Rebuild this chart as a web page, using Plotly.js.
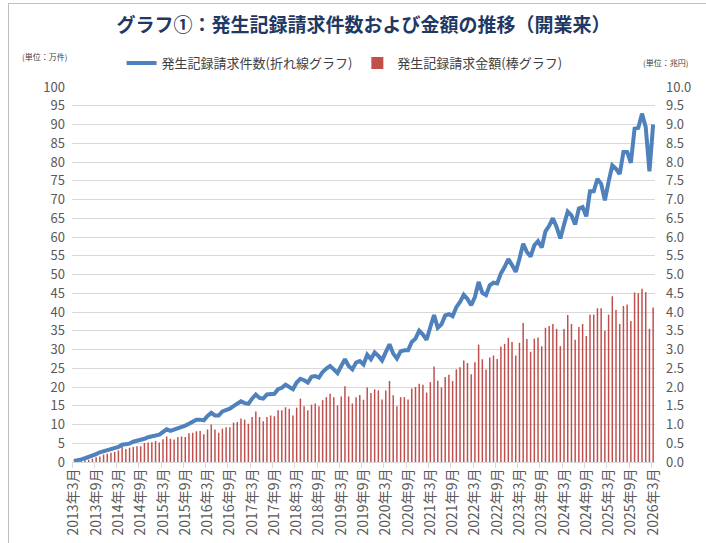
<!DOCTYPE html>
<html>
<head>
<meta charset="utf-8">
<script src="https://cdn.plot.ly/plotly-3.0.1.min.js"></script>
<style>
  html, body { margin: 0; padding: 0; background: #ffffff; }
  #wrap { position: relative; width: 706px; height: 543px; overflow: hidden; }
  #frame { position: absolute; left: 8px; top: 3px; width: 760px; height: 600px; border: 1px solid #bfbfbf; box-sizing: border-box; pointer-events: none; }
  #chart { position: absolute; left: 0; top: 0; width: 706px; height: 543px; }
</style>
</head>
<body>
<div id="wrap">
  <div id="chart"></div>
  <div id="frame"></div>
</div>
<script>
// Months: 2013年3月 .. 2026年3月
const startYear = 2013, startMonth = 3, monthCount = 157;
const months = [];
for (let k = 0; k < monthCount; k++) {
  const m = startMonth - 1 + k;
  months.push((startYear + Math.floor(m / 12)) + "年" + (m % 12 + 1) + "月");
}

// 発生記録請求件数 (万件) – line, left axis
const requestCount = [
  0.3, 0.4, 0.7, 1.0, 1.3, 1.7, 2.1, 2.6, 2.9, 3.3, 3.6, 3.8,
  4.0, 4.6, 4.7, 4.9, 5.4, 5.6, 5.8, 6.2, 6.6, 6.9, 7.2, 7.3,
  8.0, 8.7, 8.3, 8.6, 9.0, 9.4, 9.7, 10.2, 10.7, 11.3, 11.3, 11.1,
  12.3, 13.1, 12.4, 12.4, 13.5, 13.9, 14.2, 14.9, 15.5, 16.2, 15.7, 15.5,
  16.9, 18.0, 17.1, 16.9, 18.0, 18.2, 18.2, 19.4, 19.8, 20.6, 20.0, 19.4,
  21.2, 22.2, 21.8, 21.2, 22.7, 22.9, 22.5, 24.0, 24.9, 25.6, 24.7, 23.7,
  25.6, 27.4, 25.6, 24.7, 26.5, 26.9, 26.0, 28.6, 27.4, 29.2, 28.3, 27.1,
  29.3, 31.4, 28.9, 27.6, 29.5, 29.8, 29.8, 32.0, 32.9, 35.0, 34.0, 32.6,
  36.0, 39.2, 35.8, 36.7, 39.1, 39.4, 38.9, 41.3, 42.7, 44.6, 43.5, 41.8,
  44.0, 48.0, 45.1, 44.5, 47.1, 47.8, 47.6, 50.3, 52.0, 54.1, 52.5, 50.7,
  54.2, 58.2, 56.0, 54.8, 57.8, 58.9, 57.2, 61.5, 63.0, 65.0, 62.7, 59.6,
  63.3, 66.8, 65.8, 63.3, 67.6, 68.0, 65.5, 72.2, 72.2, 75.5, 74.2, 69.8,
  74.7, 79.1, 78.2, 76.8, 82.7, 82.7, 79.8, 88.9, 89.1, 92.9, 89.3, 77.5,
  90.0
];

// 発生記録請求金額 (兆円) – bars, right axis
const requestAmount = [
  0.01, 0.02, 0.03, 0.045, 0.06, 0.09, 0.13, 0.15, 0.20, 0.22, 0.25, 0.27,
  0.31, 0.40, 0.35, 0.38, 0.40, 0.42, 0.42, 0.51, 0.52, 0.53, 0.56, 0.52,
  0.61, 0.68, 0.62, 0.60, 0.67, 0.68, 0.67, 0.77, 0.78, 0.82, 0.83, 0.74,
  0.87, 1.00, 0.87, 0.78, 0.89, 0.93, 0.93, 1.05, 1.07, 1.16, 1.13, 1.02,
  1.20, 1.35, 1.20, 1.09, 1.20, 1.24, 1.22, 1.38, 1.38, 1.46, 1.42, 1.24,
  1.45, 1.69, 1.49, 1.38, 1.53, 1.56, 1.49, 1.65, 1.73, 1.82, 1.73, 1.51,
  1.75, 2.02, 1.75, 1.56, 1.73, 1.79, 1.66, 1.99, 1.84, 1.94, 1.91, 1.67,
  1.91, 2.16, 1.78, 1.49, 1.73, 1.73, 1.67, 1.96, 2.00, 2.09, 2.06, 1.85,
  2.13, 2.55, 2.17, 1.99, 2.27, 2.33, 2.16, 2.47, 2.53, 2.71, 2.64, 2.34,
  2.66, 3.13, 2.74, 2.47, 2.79, 2.84, 2.75, 3.08, 3.15, 3.31, 3.20, 2.84,
  3.18, 3.71, 3.28, 2.94, 3.29, 3.32, 3.09, 3.58, 3.63, 3.68, 3.55, 3.09,
  3.55, 3.92, 3.68, 3.26, 3.60, 3.68, 3.36, 3.93, 3.93, 4.10, 4.10, 3.50,
  3.93, 4.42, 4.06, 3.68, 4.16, 4.20, 3.76, 4.52, 4.50, 4.62, 4.53, 3.55,
  4.12
];

const leftTicks = [0,5,10,15,20,25,30,35,40,45,50,55,60,65,70,75,80,85,90,95,100];
const rightTicks = [0,0.5,1,1.5,2,2.5,3,3.5,4,4.5,5,5.5,6,6.5,7,7.5,8,8.5,9,9.5,10];

const FONT = '"Noto Sans CJK JP", "Noto Sans", sans-serif';

const traces = [
  {
    type: 'scatter', mode: 'lines', name: '発生記録請求件数(折れ線グラフ)',
    x: months, y: requestCount, yaxis: 'y2',
    line: { color: '#4F81BD', width: 4 }
  },
  {
    type: 'bar', name: '発生記録請求金額(棒グラフ)',
    x: months, y: requestAmount, yaxis: 'y',
    marker: { color: '#C0504D', line: { width: 0 } }
  }
];

const layout = {
  width: 706, height: 543,
  paper_bgcolor: '#ffffff', plot_bgcolor: '#ffffff',
  margin: { l: 72, r: 51, t: 87, b: 81 },
  font: { family: FONT, color: '#595959', size: 13 },
  title: {
    text: '<b>グラフ①：発生記録請求件数および金額の推移（開業来）</b>',
    font: { family: FONT, size: 19, color: '#1F3864' },
    x: 0.5, xanchor: 'center', xref: 'paper',
    y: 1 - 25 / 543, yanchor: 'middle', yref: 'container'
  },
  bargap: 0.6,
  showlegend: true,
  legend: {
    orientation: 'h', x: 0.085, xanchor: 'left', y: 1.064, yanchor: 'middle',
    font: { family: FONT, size: 13, color: '#404040' },
    itemwidth: 30, bgcolor: 'rgba(0,0,0,0)', traceorder: 'normal'
  },
  xaxis: {
    type: 'category',
    tickmode: 'linear', tick0: 0, dtick: 6,
    tickson: 'boundaries',
    tickangle: -90,
    ticks: 'outside', ticklen: 5, tickcolor: '#d9d9d9',
    showgrid: false, zeroline: false,
    showline: true, linecolor: '#d9d9d9', linewidth: 1,
    tickfont: { family: FONT, size: 14, color: '#595959' }
  },
  yaxis: {
    side: 'right', range: [0, 10], tickmode: 'array', tickvals: rightTicks,
    tickformat: '.1f', showgrid: true, gridcolor: '#d9d9d9', gridwidth: 1,
    zeroline: false, showline: false, ticks: '', ticklabelstandoff: 10,
    tickfont: { family: FONT, size: 13, color: '#595959' }
  },
  yaxis2: {
    overlaying: 'y', side: 'left', range: [0, 100], tickmode: 'array', tickvals: leftTicks,
    showgrid: false, zeroline: false, showline: false, ticks: '', ticklabelstandoff: 6,
    tickfont: { family: FONT, size: 13, color: '#595959' }
  },
  annotations: [
    { text: '(単位：万件)', xref: 'paper', yref: 'paper', x: (44 - 72) / 583, y: 1 + (87 - 57) / 375,
      xanchor: 'center', yanchor: 'middle', showarrow: false, font: { family: FONT, size: 8, color: '#404040' } },
    { text: '(単位：兆円)', xref: 'paper', yref: 'paper', x: (665 - 72) / 583, y: 1 + (87 - 62) / 375,
      xanchor: 'center', yanchor: 'middle', showarrow: false, font: { family: FONT, size: 8, color: '#404040' } }
  ]
};

Plotly.newPlot('chart', traces, layout, { displayModeBar: false, staticPlot: true });
</script>
</body>
</html>
